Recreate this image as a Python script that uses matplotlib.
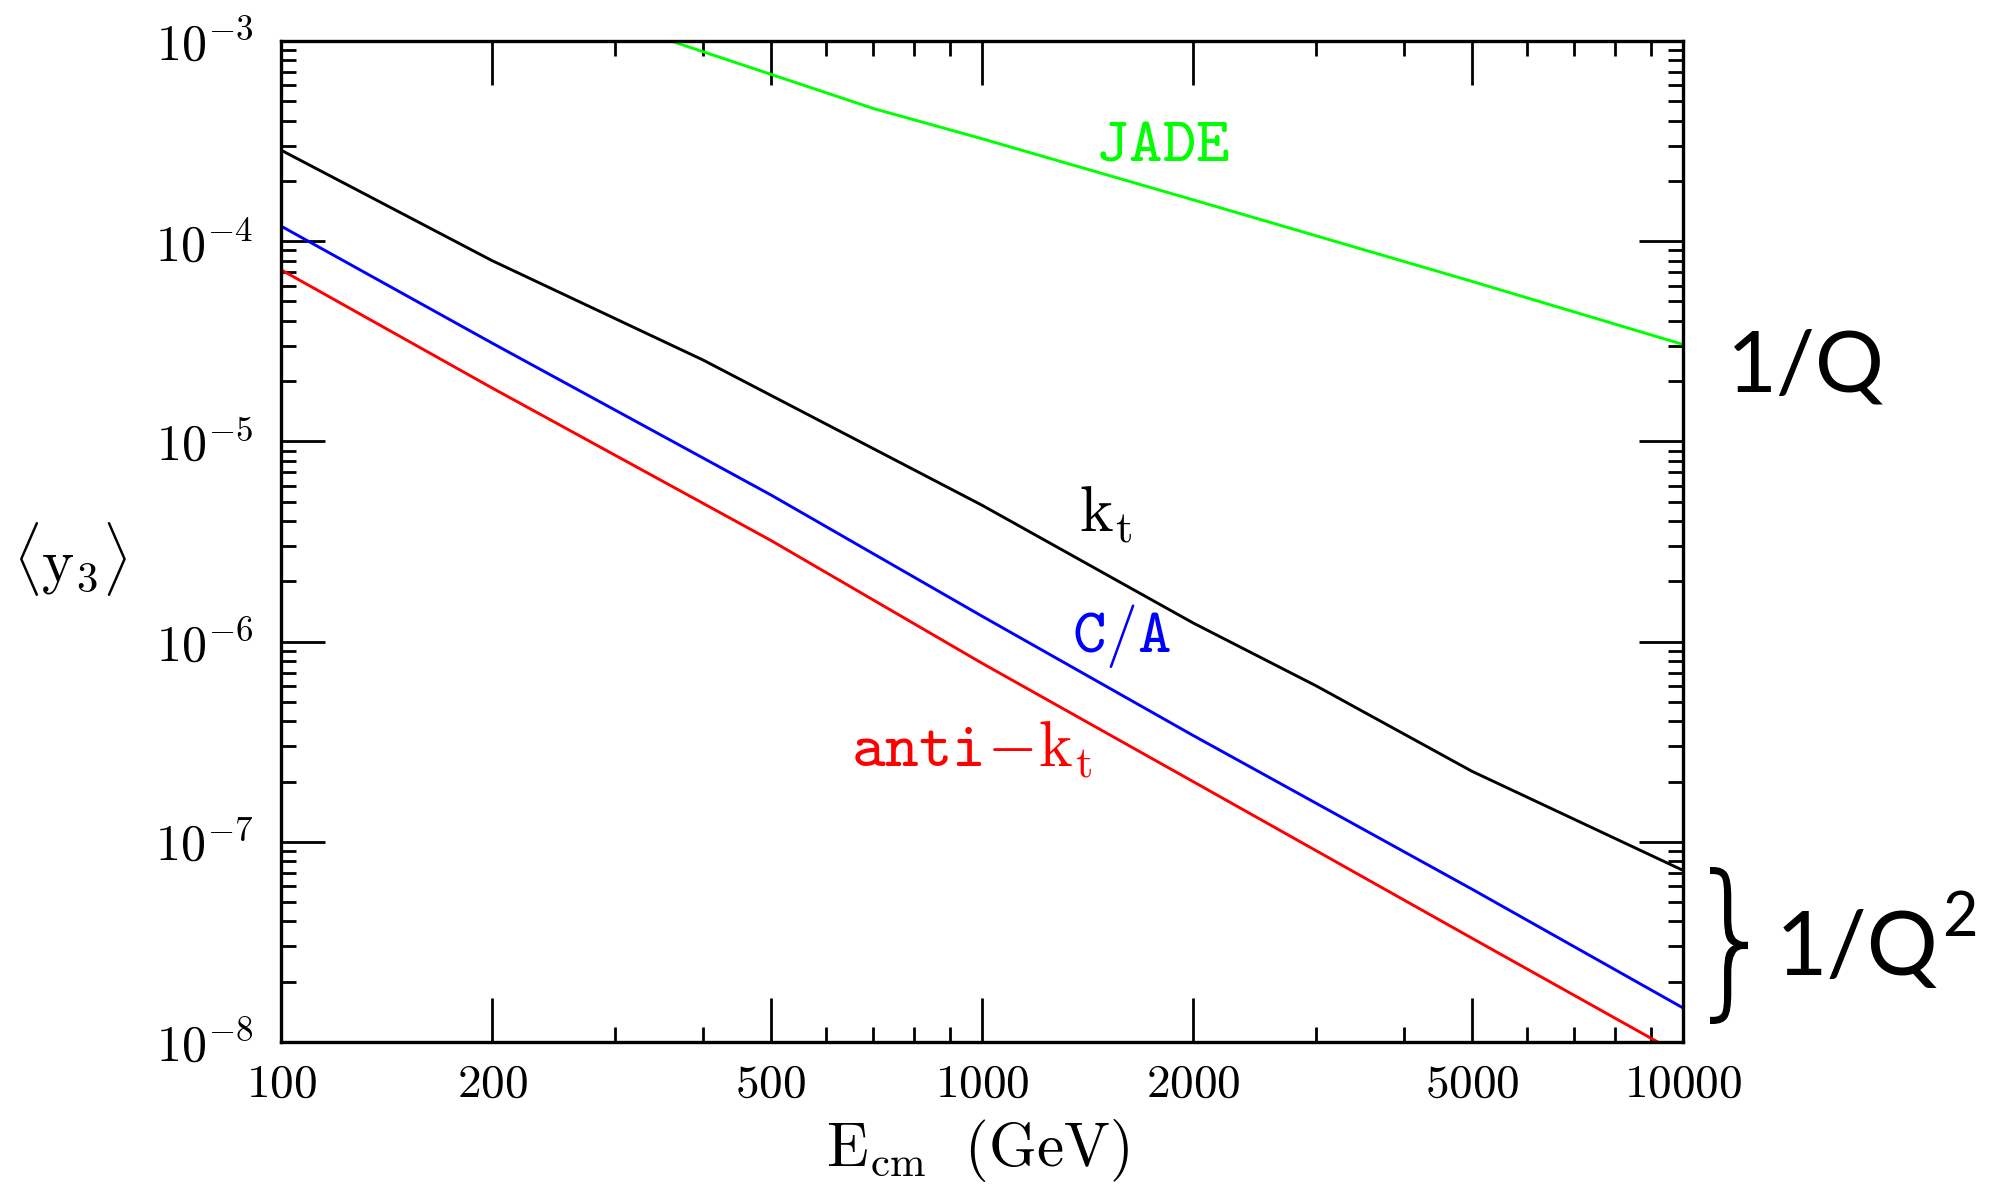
import numpy as np
import matplotlib
matplotlib.use("Agg")
import matplotlib.pyplot as plt
from matplotlib.ticker import FixedLocator, FixedFormatter, NullFormatter
from matplotlib.textpath import TextPath
from matplotlib.patches import PathPatch
from matplotlib.font_manager import FontProperties
from matplotlib.transforms import Affine2D

plt.rcParams['mathtext.fontset'] = 'cm'
plt.rcParams['font.family'] = ['DejaVu Serif']

# ---- data ----
kt_E = [100, 200, 400, 1000, 2000, 3000, 5000, 10000]
kt_y = [2.85e-4, 8.0e-5, 2.55e-5, 4.8e-6, 1.24e-6, 6.0e-7, 2.25e-7, 7.2e-8]

ca_E = [100, 200, 500, 1000, 2000, 5000, 10000]
ca_y = [1.19e-4, 3.1e-5, 5.4e-6, 1.34e-6, 3.4e-7, 5.8e-8, 1.48e-8]

akt_E = [100, 200, 500, 1000, 2000, 5000, 10000]
akt_y = [7.2e-5, 1.85e-5, 3.2e-6, 7.8e-7, 2.0e-7, 3.3e-8, 8.5e-9]

jade_E = [360, 700, 1000, 2000, 5000, 10000]
jade_y = [1.0e-3, 4.6e-4, 3.25e-4, 1.61e-4, 6.3e-5, 3.05e-5]

xticks = [100, 200, 500, 1000, 2000, 5000, 10000]
xticklabels = ['100', '200', '500', '1000', '2000', '5000', '10000']
yticks = [1e-8, 1e-7, 1e-6, 1e-5, 1e-4, 1e-3]
yticklabels = ['-8', '-7', '-6', '-5', '-4', '-3']

W, H, DPI = 1991, 1185, 100
fig = plt.figure(figsize=(W / DPI, H / DPI), dpi=DPI)
ax = fig.add_axes([281 / W, 1 - 1042 / H, (1683 - 281) / W, (1042 - 41) / H])

lw = 2.1
ax.plot(kt_E, kt_y, color='black', lw=lw)
ax.plot(ca_E, ca_y, color='#0000ff', lw=lw)
ax.plot(akt_E, akt_y, color='#ff0000', lw=lw)
ax.plot(jade_E, jade_y, color='#00ff00', lw=lw)

ax.set_xscale('log')
ax.set_yscale('log')
ax.set_xlim(100, 10000)
ax.set_ylim(1e-8, 1e-3)

ax.xaxis.set_major_locator(FixedLocator(xticks))
ax.xaxis.set_major_formatter(FixedFormatter([r'$\mathbf{%s}$' % s for s in xticklabels]))
minors_x = [m * 10 ** d for d in (2, 3) for m in range(2, 10) if m * 10 ** d not in xticks]
ax.xaxis.set_minor_locator(FixedLocator(minors_x))
ax.xaxis.set_minor_formatter(NullFormatter())

ax.yaxis.set_major_locator(FixedLocator(yticks))
ax.yaxis.set_major_formatter(FixedFormatter([r'$\mathbf{10}^{\mathbf{%s}}$' % s for s in yticklabels]))
minors_y = [m * 10.0 ** d for d in range(-8, -3) for m in range(2, 10)]
ax.yaxis.set_minor_locator(FixedLocator(minors_y))
ax.yaxis.set_minor_formatter(NullFormatter())

ax.tick_params(which='major', direction='in', length=32, width=2.0,
               top=True, right=True)
ax.tick_params(axis='x', which='major', pad=14, labelsize=34)
ax.tick_params(axis='y', which='major', pad=20, labelsize=36)
ax.tick_params(which='minor', direction='in', length=11, width=2.0,
               top=True, right=True)
for s in ax.spines.values():
    s.set_linewidth(2.4)

# curve labels
ax.text(1807, 10 ** -3.508, r'$\mathtt{JADE}$', color='#00ff00', fontsize=46,
        ha='center', va='center')
ax.text(1500, 10 ** -5.367, r'$\mathrm{k_t}$', color='black', fontsize=46,
        ha='center', va='center')
ax.text(1582, 10 ** -5.97, r'$\mathtt{C/A}$', color='#0000ff', fontsize=46,
        ha='center', va='center')
ax.text(967, 10 ** -6.54, r'$\mathtt{anti}\!-\!\mathrm{k_t}$', color='#ff0000',
        fontsize=46, ha='center', va='center')

# axis labels
fig.text(978 / W, 1 - 1150 / H, r'$\mathrm{E_{cm}\ \ (GeV)}$', fontsize=44,
         ha='center', va='center')
fig.text(70 / W, 1 - 559 / H, r'$\langle \mathrm{y}_3 \rangle$', fontsize=44,
         ha='center', va='center')

# scaling annotations
fig.text(1806 / W, 1 - 368 / H, '1/Q', fontsize=62, family='Lato',
         ha='center', va='center')
t2 = fig.text(1776 / W, 1 - 950 / H, '1/Q', fontsize=64, family='Lato',
              ha='left', va='center')
fig.canvas.draw()
bb = t2.get_window_extent()
fig.text((bb.x1 + 3) / W, 1 - 918 / H, '2', fontsize=44, family='Lato',
         ha='left', va='center')

# brace
tp = TextPath((0, 0), '}', size=1, prop=FontProperties(family='DejaVu Sans', weight='light'))
ext = tp.get_extents()
bx0, bx1, by0, by1 = 1710, 1748, 867, 1024
tr = (Affine2D().translate(-ext.x0, -ext.y0)
      .scale((bx1 - bx0) / ext.width, (by1 - by0) / ext.height)
      .translate(bx0, H - by1).scale(1 / DPI)) + fig.dpi_scale_trans
fig.patches.append(PathPatch(tp, transform=tr, color='black', lw=0))

fig.savefig('out.png', dpi=DPI)
